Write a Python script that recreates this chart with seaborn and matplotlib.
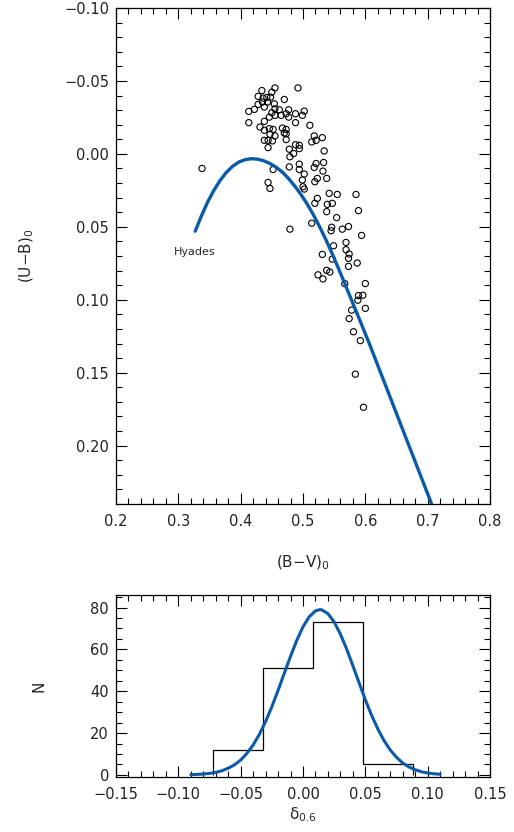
import numpy as np
import pandas as pd
import seaborn as sns
import matplotlib
matplotlib.use('Agg')
import matplotlib.pyplot as plt
from matplotlib.ticker import MultipleLocator, FuncFormatter

# stars: (B-V)0 and (U-B)0
bv = [0.455, 0.434, 0.492, 0.450, 0.428, 0.436, 0.442, 0.448, 0.470, 0.435,
      0.443, 0.454, 0.428, 0.438, 0.422, 0.413, 0.455, 0.462, 0.477, 0.473,
      0.450, 0.488, 0.502, 0.499, 0.465, 0.455, 0.446, 0.438, 0.477, 0.413,
      0.488, 0.431, 0.446, 0.452, 0.467, 0.473, 0.511, 0.438, 0.470, 0.447,
      0.455, 0.473, 0.518, 0.531, 0.521, 0.514, 0.438, 0.444, 0.451, 0.473,
      0.444, 0.488, 0.494, 0.478, 0.485, 0.494, 0.479, 0.534, 0.338, 0.452,
      0.478, 0.494, 0.521, 0.533, 0.494, 0.518, 0.502, 0.532, 0.499, 0.523,
      0.538, 0.519, 0.444, 0.447, 0.500, 0.502, 0.542, 0.555, 0.585, 0.523,
      0.519, 0.539, 0.547, 0.589, 0.538, 0.554, 0.514, 0.479, 0.546, 0.545,
      0.563, 0.573, 0.594, 0.569, 0.549, 0.569, 0.574, 0.573, 0.531, 0.587,
      0.573, 0.547, 0.538, 0.543, 0.524, 0.532, 0.567, 0.600, 0.589, 0.596,
      0.588, 0.600, 0.578, 0.574, 0.581, 0.592, 0.584, 0.597]
ub = [-0.0452, -0.0434, -0.0452, -0.0423, -0.0394, -0.0382, -0.0387, -0.0389, -0.0373, -0.0355,
      -0.0355, -0.0343, -0.0339, -0.0321, -0.0305, -0.0291, -0.0309, -0.0302, -0.0302, -0.0275,
      -0.0282, -0.0275, -0.0293, -0.0264, -0.0264, -0.0264, -0.0252, -0.0223, -0.0252, -0.0214,
      -0.0214, -0.0184, -0.0173, -0.0168, -0.0177, -0.0168, -0.0196, -0.0162, -0.0143, -0.0134,
      -0.0123, -0.0138, -0.0123, -0.0111, -0.0093, -0.0082, -0.0093, -0.0093, -0.0089, -0.0098,
      -0.0043, -0.0063, -0.0059, -0.0032, -0.0002, -0.0036, 0.0020, -0.0020, 0.0100, 0.0107,
      0.0089, 0.0070, 0.0066, 0.0059, 0.0107, 0.0093, 0.0138, 0.0118, 0.0179, 0.0168,
      0.0168, 0.0191, 0.0196, 0.0237, 0.0225, 0.0241, 0.0271, 0.0278, 0.0278, 0.0305,
      0.0339, 0.0346, 0.0339, 0.0389, 0.0396, 0.0437, 0.0475, 0.0516, 0.0503, 0.0527,
      0.0516, 0.0498, 0.0559, 0.0607, 0.0630, 0.0657, 0.0686, 0.0716, 0.0689, 0.0748,
      0.0771, 0.0721, 0.0798, 0.0810, 0.0829, 0.0857, 0.0889, 0.0889, 0.0971, 0.0969,
      0.1003, 0.1059, 0.1071, 0.1129, 0.1219, 0.1280, 0.1510, 0.1737]

# Hyades sequence
hy_bv = [0.327, 0.337, 0.347, 0.357, 0.367, 0.377, 0.387, 0.397, 0.407, 0.417,
         0.427, 0.437, 0.447, 0.457, 0.467, 0.477, 0.487, 0.497, 0.507, 0.517,
         0.527, 0.537, 0.547, 0.557, 0.567, 0.587, 0.607, 0.637, 0.667, 0.697,
         0.706]
hy_ub = [0.0530, 0.0425, 0.0330, 0.0250, 0.0182, 0.0127, 0.0085, 0.0056, 0.0040, 0.0033,
         0.0036, 0.0047, 0.0066, 0.0092, 0.0125, 0.0170, 0.0222, 0.0280, 0.0346, 0.0420,
         0.0502, 0.0591, 0.0686, 0.0786, 0.0889, 0.1097, 0.1307, 0.1637, 0.1967, 0.2297,
         0.2396]

# histogram of delta_0.6
bin_edges = [-0.072, -0.032, 0.008, 0.048, 0.088]
counts = [12, 51, 73, 5]

# gaussian fit curve
g_x = [-0.090, -0.085, -0.080, -0.075, -0.070, -0.065, -0.060, -0.055, -0.050, -0.045,
       -0.040, -0.035, -0.030, -0.025, -0.020, -0.015, -0.010, -0.005, 0.000, 0.005,
       0.010, 0.0136, 0.015, 0.020, 0.025, 0.030, 0.035, 0.040, 0.045, 0.050,
       0.055, 0.060, 0.065, 0.070, 0.075, 0.080, 0.085, 0.090, 0.095, 0.100,
       0.105, 0.110]
g_y = [0.13, 0.24, 0.43, 0.74, 1.2, 2.0, 3.2, 4.8, 7.1, 10.3,
       14.3, 19.4, 25.5, 32.6, 40.4, 48.6, 56.7, 64.3, 70.8, 75.6,
       78.4, 79.0, 78.9, 77.1, 73.1, 67.3, 60.2, 52.2, 44.0, 35.9,
       28.5, 22.0, 16.4, 11.9, 8.4, 5.7, 3.8, 2.5, 1.5, 0.9,
       0.55, 0.3]

blue = '#0a5aa8'

sns.set_theme(style='ticks')
plt.rcParams['font.family'] = ['DejaVu Sans']
plt.rcParams['mathtext.default'] = 'regular'

def fmt(d):
    return FuncFormatter(lambda v, p: ('%.*f' % (d, v)).replace('-', '\u2212'))

def idl_ticks(ax):
    ax.tick_params(which='both', direction='in', top=True, right=True,
                   labelsize=10.5, color='black', labelcolor='#222222', width=0.8)
    ax.tick_params(which='major', length=8)
    ax.tick_params(which='minor', length=4)
    ax.tick_params(axis='x', which='major', pad=7)
    ax.tick_params(axis='y', which='major', pad=5)
    for s in ax.spines.values():
        s.set_color('black')
        s.set_linewidth(0.9)

fig = plt.figure(figsize=(5.14, 8.32), dpi=100)

# top panel: colour-colour diagram
ax1 = fig.add_axes([0.2257, 0.3942, 0.7276, 0.5962])
sns.scatterplot(x=bv, y=ub, ax=ax1, marker='o', s=20, facecolors='none',
                edgecolor='black', linewidth=0.8)
sns.lineplot(x=hy_bv, y=hy_ub, ax=ax1, color=blue, linewidth=2.4, sort=False, estimator=None)
ax1.text(0.327, 0.0675, 'Hyades', ha='center', va='center', fontsize=8)
ax1.set_xlim(0.2, 0.8)
ax1.set_ylim(0.24, -0.10)
ax1.xaxis.set_major_locator(MultipleLocator(0.1))
ax1.xaxis.set_minor_locator(MultipleLocator(0.02))
ax1.yaxis.set_major_locator(MultipleLocator(0.05))
ax1.yaxis.set_minor_locator(MultipleLocator(0.01))
ax1.xaxis.set_major_formatter(fmt(1))
ax1.yaxis.set_major_formatter(fmt(2))
idl_ticks(ax1)
ax1.set_xlabel('(B\u2212V)$_0$', fontsize=11)
ax1.set_ylabel('(U\u2212B)$_0$', fontsize=11)
ax1.xaxis.set_label_coords(0.5, -0.10)
ax1.yaxis.set_label_coords(-0.215, 0.5)

# bottom panel: histogram
ax2 = fig.add_axes([0.2257, 0.0661, 0.7276, 0.2188])
ax2.stairs(counts, bin_edges, baseline=0, fill=False, color='black', linewidth=0.9)
sns.lineplot(x=g_x, y=g_y, ax=ax2, color=blue, linewidth=2.2, sort=False, estimator=None)
ax2.set_xlim(-0.15, 0.15)
ax2.set_ylim(-1, 86)
ax2.xaxis.set_major_locator(MultipleLocator(0.05))
ax2.xaxis.set_minor_locator(MultipleLocator(0.01))
ax2.yaxis.set_major_locator(MultipleLocator(20))
ax2.yaxis.set_minor_locator(MultipleLocator(5))
ax2.xaxis.set_major_formatter(fmt(2))
ax2.yaxis.set_major_formatter(fmt(0))
idl_ticks(ax2)
ax2.set_xlabel('$\\delta_{0.6}$', fontsize=11)
ax2.set_ylabel('N', fontsize=11)
ax2.xaxis.set_label_coords(0.5, -0.155)
ax2.yaxis.set_label_coords(-0.185, 0.5)

fig.savefig('out.png', dpi=100)
